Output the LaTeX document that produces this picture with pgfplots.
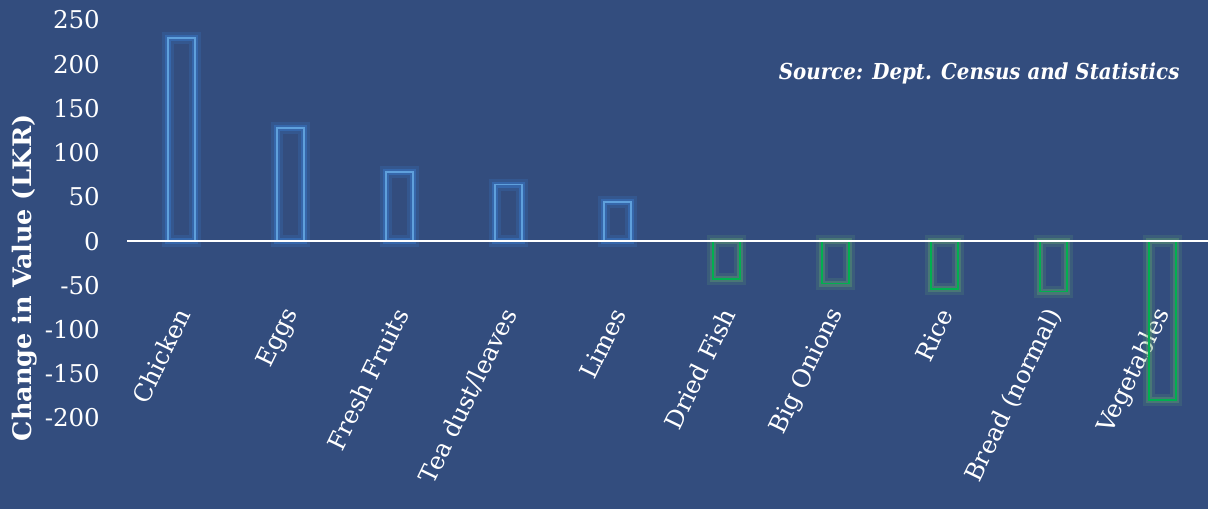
\documentclass[border=0pt]{standalone}
\usepackage{pgfplots}
\pgfplotsset{compat=1.18}
\usepackage{fontspec}
\setmainfont{DejaVu Serif}
\newfontfamily\srcfont[FakeStretch=0.9]{DejaVu Serif}
\definecolor{bg}{RGB}{51,77,126}
\definecolor{barblue}{RGB}{95,160,220}
\definecolor{glowblue}{RGB}{60,135,225}
\definecolor{bargreen}{RGB}{0,176,80}
\definecolor{glowgreen}{RGB}{100,170,110}
\begin{document}
\begin{tikzpicture}
\useasboundingbox (0,0) rectangle (1208pt,509pt);
\fill[bg] (0,0) rectangle (1208pt,509pt);
\begin{axis}[
  at={(127pt,91pt)}, anchor=south west,
  width=1090pt, height=398pt, scale only axis,
  xmin=-0.5, xmax=9.5, ymin=-200, ymax=250,
  axis line style={draw=none},
  major tick style={draw=none},
  ytick={-200,-150,...,250},
  xtick={0,...,9},
  xticklabels={Chicken,Eggs,Fresh Fruits,Tea dust/leaves,Limes,Dried Fish,Big Onions,Rice,Bread (normal),Vegetables},
  /pgf/number format/assume math mode=true,
  ticklabel style={text=white, font=\fontsize{24.5}{28}\selectfont},
  yticklabel style={inner sep=0pt},
  yticklabel shift=27pt,
  xticklabel style={xshift=2pt, yshift=108pt, rotate=64, anchor=east, inner sep=0pt},
  ylabel={Change in Value (LKR)},
  ylabel style={at={(axis description cs:-0.0936,0.352)}, anchor=center, font=\bfseries\fontsize{25.5}{30}\selectfont, text=white},
  clip=false,
]
\addplot[ybar, bar width=27pt, bar shift=0pt, draw=barblue, line width=1.8pt, fill=none,
  preaction={draw=glowblue, line width=12pt, draw opacity=0.18},
  preaction={draw=glowblue, line width=6pt, draw opacity=0.35}]
  coordinates {(0,230) (1,128) (2,78) (3,64) (4,44)};
\addplot[ybar, bar width=27pt, bar shift=0pt, draw=bargreen, line width=1.8pt, fill=none,
  preaction={draw=glowgreen, line width=12pt, draw opacity=0.18},
  preaction={draw=glowgreen, line width=6pt, draw opacity=0.35}]
  coordinates {(5,-43) (6,-48) (7,-54) (8,-57) (9,-180)};
\addplot[sharp plot, white, line width=2pt, mark=none] coordinates {(-0.5,0) (9.6,0)};
\end{axis}
\node[anchor=east, text=white, font=\srcfont\bfseries\itshape\fontsize{22}{26}\selectfont] at (1183pt,436pt) {Source: Dept. Census and Statistics};
\end{tikzpicture}
\end{document}
